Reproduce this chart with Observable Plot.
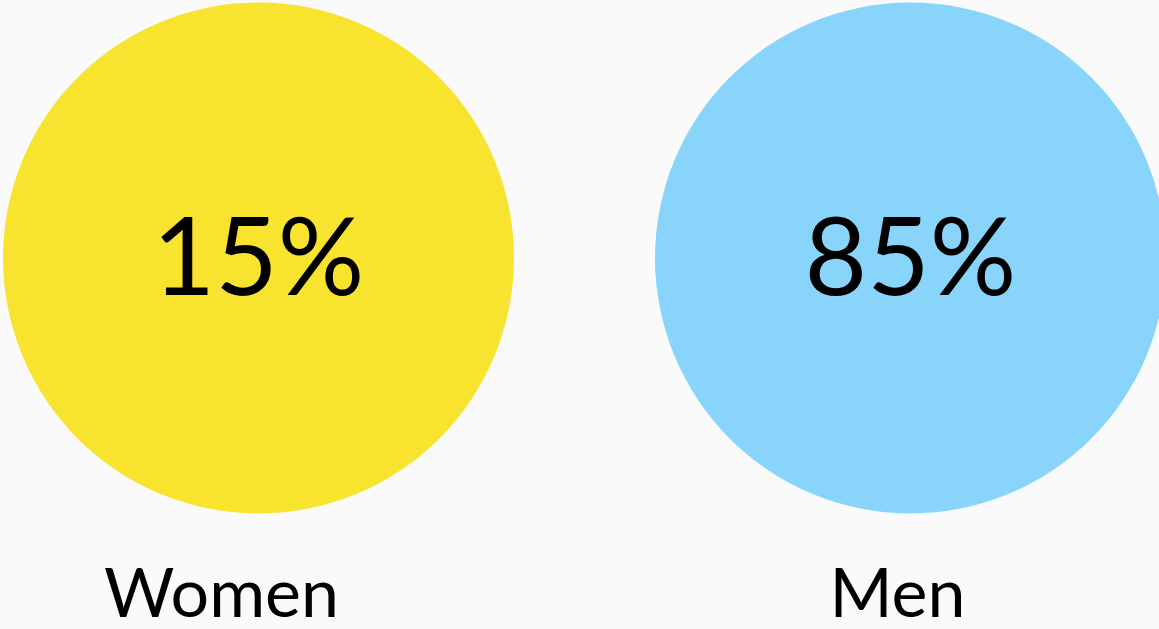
<!DOCTYPE html>
<html>
<head>
<meta charset="utf-8">
<script src="https://cdn.jsdelivr.net/npm/d3@7"></script>
<script src="https://cdn.jsdelivr.net/npm/@observablehq/plot@0.6"></script>
<style>
  html, body { margin: 0; padding: 0; background: #fafafa; overflow: hidden; }
  #chart svg { display: block; }
</style>
</head>
<body>
<div id="chart"></div>
<script>
const categories = ["Women", "Men"];
const shares = [15, 85];
const colors = ["#f8e32e", "#89d4fa"];

const data = categories.map((c, i) => ({category: c, share: shares[i], color: colors[i]}));

const labelOffsets = {Women: -37, Men: -13};

const chart = Plot.plot({
  width: 1159,
  height: 629,
  marginTop: 0,
  marginBottom: 114,
  marginLeft: 0,
  marginRight: 0,
  style: {background: "#fafafa", fontFamily: "Lato, sans-serif", color: "#000", overflow: "visible"},
  x: {type: "point", domain: categories, range: [257.5, 909.5], padding: 0, axis: null},
  marks: [
    Plot.dot(data, {x: "category", r: 255.5, fill: "color", stroke: null, frameAnchor: "middle"}),
    Plot.text(data, {x: "category", text: d => d.share + "%", frameAnchor: "middle", dy: 2.5,
      fontSize: 108, fill: "#000", lineAnchor: "middle"}),
    ...categories.map(c => Plot.text(data.filter(d => d.category === c), {
      x: "category", text: "category", frameAnchor: "bottom", dy: 80, dx: labelOffsets[c],
      fontSize: 68, fill: "#000", lineAnchor: "middle"}))
  ]
});
document.getElementById("chart").appendChild(chart);
</script>
</body>
</html>
